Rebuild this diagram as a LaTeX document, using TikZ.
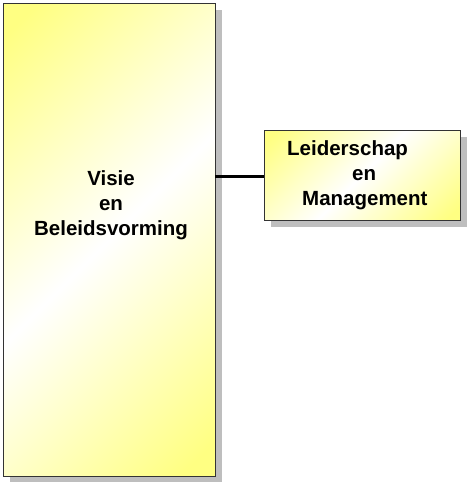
\documentclass[tikz,border=0pt]{standalone}
\usepackage{fontspec}
\setmainfont{Liberation Sans}
\usetikzlibrary{shadows}
\definecolor{paleY}{RGB}{255,255,130}
\definecolor{shadowgray}{RGB}{190,190,190}
\pgfdeclarehorizontalshading{ywy}{100bp}{color(0bp)=(paleY); color(18bp)=(paleY); color(50bp)=(white); color(82bp)=(paleY); color(100bp)=(paleY)}
\tikzset{
  box/.style={draw=black!80, line width=0.9pt, shading=ywy, shading angle=-45,
    drop shadow={shadow xshift=7pt, shadow yshift=-7pt, fill=shadowgray, opacity=1},
    inner sep=0pt},
  txt/.style={font=\bfseries\fontsize{20.5}{25}\selectfont, inner sep=0pt},
  link/.style={line width=3pt, black}
}
\begin{document}
\begin{tikzpicture}[x=1pt,y=-1pt]
\useasboundingbox (0,0) rectangle (466,482);
\node[box, minimum width=212pt, minimum height=473pt] (vb) at (109,239.5) {};
\node[txt, align=center] (vbt) at (111,205) {Visie\\en\\Beleidsvorming};
\node[box, minimum width=196pt, minimum height=90pt] (lm) at (362,175) {};
\node[txt, align=left, anchor=west] (lmt) at (287,175) {Leiderschap\\\hspace*{65pt}en\\\hspace*{15pt}Management};
\draw[link] (vb.east |- 0,176) -- (lm.west |- 0,176);
\end{tikzpicture}
\end{document}
